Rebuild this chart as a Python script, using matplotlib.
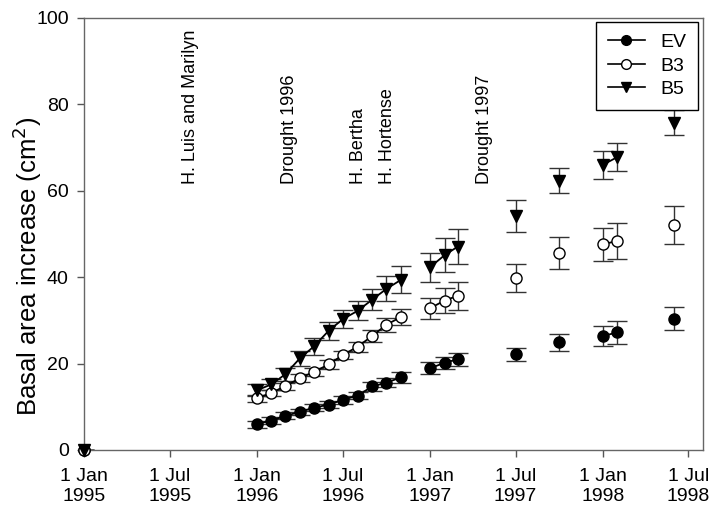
import pandas as pd
import matplotlib.pyplot as plt
from matplotlib.lines import Line2D

plt.rcParams["font.family"] = ["Liberation Sans", "DejaVu Sans"]

# sampling dates (first point is the 1 Jan 1995 origin)
dates = pd.to_datetime([
    "1995-01-01",
    "1996-01-01", "1996-02-01", "1996-03-01", "1996-04-01", "1996-05-01",
    "1996-06-01", "1996-07-01", "1996-08-01", "1996-09-01", "1996-10-01",
    "1996-11-01",
    "1997-01-01", "1997-02-01", "1997-03-01", "1997-07-01", "1997-10-01",
    "1998-01-01", "1998-02-01", "1998-06-01",
])

ev = [0, 6.0, 6.8, 7.9, 8.8, 9.8, 10.5, 11.6, 12.6, 14.7, 15.6, 16.8,
      18.9, 20.2, 21.0, 22.2, 24.9, 26.4, 27.2, 30.4]
ev_err = [0, 0.8, 0.8, 0.8, 0.8, 0.8, 0.8, 0.9, 0.9, 1.1, 1.1, 1.2,
          1.4, 1.4, 1.5, 1.5, 1.9, 2.4, 2.6, 2.6]

b3 = [0, 12.0, 13.2, 14.8, 16.6, 18.1, 19.8, 22.0, 23.9, 26.4, 29.0, 30.8,
      32.8, 34.6, 35.7, 39.8, 45.6, 47.6, 48.4, 52.1]
b3_err = [0, 0.8, 0.8, 0.8, 0.9, 0.9, 1.0, 1.0, 1.1, 1.3, 1.6, 1.9,
          2.5, 2.9, 3.3, 3.2, 3.7, 3.9, 4.2, 4.4]

b5 = [0, 13.8, 15.2, 17.5, 21.2, 24.0, 27.6, 30.3, 32.2, 34.8, 37.3, 39.4,
      42.3, 45.1, 47.1, 54.2, 62.3, 66.0, 67.8, 75.8]
b5_err = [0, 1.4, 1.3, 1.5, 1.8, 1.9, 2.1, 2.1, 2.2, 2.5, 2.9, 3.1,
          3.4, 3.9, 4.1, 3.7, 2.9, 3.2, 3.2, 2.8]

events = ["H. Luis and Marilyn", "Drought 1996", "H. Bertha", "H. Hortense",
          "Drought 1997"]
event_dates = pd.to_datetime(["1995-08-13", "1996-03-11", "1996-08-02",
                              "1996-10-04", "1997-04-27"])

tick_dates = pd.to_datetime(["1995-01-01", "1995-07-01", "1996-01-01",
                             "1996-07-01", "1997-01-01", "1997-07-01",
                             "1998-01-01", "1998-07-01"])

series = [
    ("EV", ev, ev_err, "o", "black"),
    ("B3", b3, b3_err, "o", "white"),
    ("B5", b5, b5_err, "v", "black"),
]

fig = plt.figure(figsize=(7.12, 5.15), dpi=100)
ax = fig.add_axes([84 / 712, 65 / 515, 619 / 712, 432 / 515])

# split into runs of monthly samples: only those are joined by a line
gaps = pd.Series(dates).diff().dt.days.fillna(999).values
run_id = (gaps > 45).cumsum()

for name, vals, errs, mk, face in series:
    ax.errorbar(dates, vals, yerr=errs, fmt="none", ecolor="#333333",
                elinewidth=1.0, capsize=7, capthick=1.0, zorder=2)
    df = pd.DataFrame({"d": dates, "v": vals, "run": run_id})
    for _, seg in df.groupby("run"):
        if len(seg) > 1:
            ax.plot(seg["d"], seg["v"], color="black", lw=1.3, zorder=3)
    ax.plot(dates, vals, linestyle="none", marker=mk, markersize=8,
            markerfacecolor=face, markeredgecolor="black",
            markeredgewidth=1.0, zorder=4, clip_on=False)

for label, d in zip(events, event_dates):
    ax.text(d, 61.5, label, rotation=90, ha="center", va="bottom",
            fontsize=13)

ax.set_xlim(pd.Timestamp("1995-01-01"), pd.Timestamp("1998-08-01"))
ax.set_ylim(0, 100)
ax.set_yticks([0, 20, 40, 60, 80, 100])
ax.set_xticks(tick_dates)
ax.set_xticklabels([f"{d.day} {d.strftime('%b')}\n{d.year}" for d in tick_dates])
ax.tick_params(axis="both", labelsize=14, length=5, width=1,
               color="#555555", direction="out")
ax.tick_params(axis="x", pad=8)
ax.tick_params(axis="y", pad=6)
for s in ax.spines.values():
    s.set_color("#666666")
    s.set_linewidth(1.0)

fig.text(27 / 712, 1 - 266 / 515, "Basal area increase (cm$^2$)",
         rotation=90, ha="center", va="center", fontsize=18.5)

handles = [Line2D([], [], color="black", lw=1.2, marker=mk, markersize=7,
                  markerfacecolor=face, markeredgecolor="black")
           for _, _, _, mk, face in series]
leg = ax.legend(handles, [s[0] for s in series], loc="upper right",
                bbox_to_anchor=(0.992, 0.991), borderaxespad=0,
                fontsize=14, frameon=True, fancybox=False, framealpha=1,
                edgecolor="black", handlelength=1.9, handletextpad=0.8,
                labelspacing=0.3, borderpad=0.6)
leg.get_frame().set_linewidth(1.0)
leg.set_zorder(10)

fig.savefig("out.png", dpi=100)
